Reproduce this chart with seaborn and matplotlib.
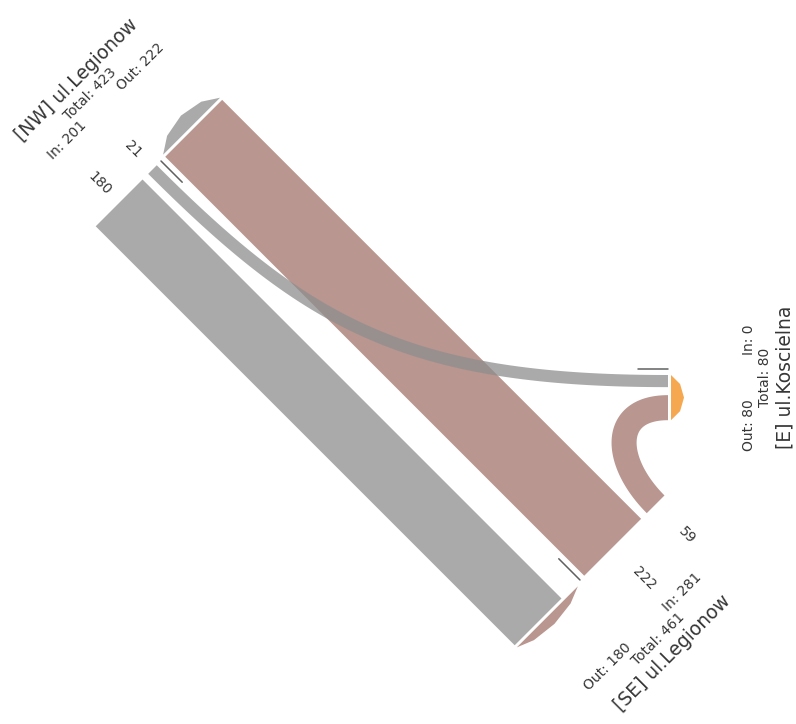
import matplotlib
matplotlib.use('Agg')
import numpy as np
import seaborn as sns
import matplotlib.pyplot as plt
from matplotlib.patches import Polygon

sns.set_theme(style="white")

# arms of the junction
arms = ["NW", "SE", "E"]
arm_names = {"NW": "[NW] ul.Legionow", "SE": "[SE] ul.Legionow", "E": "[E] ul.Koscielna"}
arm_colors = {"NW": "#8e8e8e", "SE": "#a2736a", "E": "#f38b16"}

# flows: origin -> destination, vehicles
flow_src = ["NW", "NW", "SE", "SE"]
flow_dst = ["SE", "E", "NW", "E"]
flow_val = [180, 21, 222, 59]

# lane order from the median outwards
in_order = {"NW": [1, 0], "SE": [2, 3], "E": []}
out_turn_order = {"E": [1, 3]}
bend = [None, (220, 260), None, (60, 58)]

SQ = np.sqrt(2)
def ds(a, s):
    return np.array([(a + s) / SQ, (a - s) / SQ])

# face point (median), inward dir, lateral dir towards in-lanes
face = {"NW": ds(227.7, 0), "SE": ds(820.2, 0), "E": np.array([668.0, 369.0])}
inward = {"NW": np.array([1, 1]) / SQ, "SE": np.array([-1, -1]) / SQ, "E": np.array([-1.0, 0])}
lat = {"NW": np.array([-1, 1]) / SQ, "SE": np.array([1, -1]) / SQ, "E": np.array([0, -1.0])}
text_rot = {"NW": 45, "SE": 45, "E": 90}
lane_lab_dist = {"NW": 28, "SE": 44}
lab_center = {"NW": 3, "SE": 14, "E": -8}
lab_gap = {"NW": 25, "SE": 25, "E": 22}
arrow_h = {"NW": 15, "SE": 10, "E": 13}

G0, G = 6, 8
W = [0.34 * v + 5 for v in flow_val]

lane_in = {}
for arm, ids in in_order.items():
    off = G0
    for i in ids:
        lane_in[i] = (off, off + W[i])
        off += W[i] + G
lane_out = {}
for arm, ids in out_turn_order.items():
    off = G0
    for i in ids:
        lane_out[i] = (off, off + W[i])
        off += W[i] + G
for i in range(len(flow_val)):
    if i not in lane_out:
        lane_out[i] = lane_in[i]


def ribbon(p0, p1, p2, p3, w, n=160):
    t = np.linspace(0, 1, n)[:, None]
    pts = (1 - t) ** 3 * p0 + 3 * (1 - t) ** 2 * t * p1 + 3 * (1 - t) * t ** 2 * p2 + t ** 3 * p3
    der = 3 * (1 - t) ** 2 * (p1 - p0) + 6 * (1 - t) * t * (p2 - p1) + 3 * t ** 2 * (p3 - p2)
    der = der / np.linalg.norm(der, axis=1)[:, None]
    nrm = np.column_stack([-der[:, 1], der[:, 0]])
    return np.vstack([pts + nrm * w / 2, (pts - nrm * w / 2)[::-1]])


fig = plt.figure(figsize=(7.96, 7.24), dpi=100)
ax = fig.add_axes([0, 0, 1, 1])
ax.set_xlim(0, 796)
ax.set_ylim(724, 0)
ax.axis("off")

# draw through flows first, turning flows on top
order = sorted(range(len(flow_val)), key=lambda i: bend[i] is not None)
for i in order:
    s, d = flow_src[i], flow_dst[i]
    p0 = face[s] + lat[s] * np.mean(lane_in[i])
    p3 = face[d] - lat[d] * np.mean(lane_out[i])
    if bend[i] is None:
        p1 = p0 + (p3 - p0) / 3
        p2 = p0 + 2 * (p3 - p0) / 3
    else:
        p1 = p0 + inward[s] * bend[i][0]
        p2 = p3 + inward[d] * bend[i][1]
    poly = ribbon(p0, p1, p2, p3, W[i])
    ax.add_patch(Polygon(poly, closed=True, fc=arm_colors[s], ec="none", alpha=0.75, zorder=2 + (bend[i] is not None)))

txt = dict(color="#363636", rotation_mode="anchor", va="center")
for arm in arms:
    F, n, e = face[arm], inward[arm], lat[arm]
    ins = [i for i in range(len(flow_val)) if flow_src[i] == arm]
    outs = [i for i in range(len(flow_val)) if flow_dst[i] == arm]
    v_in = sum(flow_val[i] for i in ins)
    v_out = sum(flow_val[i] for i in outs)

    # outgoing arrow
    if outs:
        hi = max(lane_out[i][1] for i in outs)
        pa = F - e * G0 - n * 3
        pb = F - e * hi - n * 3
        h = arrow_h[arm]
        pts = [pa]
        for f, k in [(0.2, 0.7), (0.5, 1.0), (0.8, 0.7)]:
            pts.append(pa + (pb - pa) * f - n * h * k)
        pts.append(pb)
        ax.add_patch(Polygon(np.array(pts), closed=True, fc=arm_colors[arm], ec="none", alpha=0.75, zorder=2))

    # median marker
    m = np.array([F, F + n * 30])
    ax.plot(m[:, 0], m[:, 1], color="#606060", lw=1.1, zorder=4)

    rot = text_rot[arm]
    # lane values
    for i in ins:
        p = F + e * np.mean(lane_in[i]) - n * lane_lab_dist[arm]
        ax.text(p[0], p[1], str(flow_val[i]), rotation=-45, ha="center", fontsize=10, **txt)

    c = lab_center[arm]
    g = lab_gap[arm]
    tdir = np.array([np.cos(np.radians(rot)), -np.sin(np.radians(rot))])
    in_left = np.dot(tdir, e) > 0
    p = F + e * (c + g) - n * 81
    ax.text(p[0], p[1], f"In: {v_in}", rotation=rot, ha="left" if in_left else "right", fontsize=10, **txt)
    p = F + e * (c - g) - n * 81
    ax.text(p[0], p[1], f"Out: {v_out}", rotation=rot, ha="right" if in_left else "left", fontsize=10, **txt)
    p = F + e * c - n * 97
    ax.text(p[0], p[1], f"Total: {v_in + v_out}", rotation=rot, ha="center", fontsize=10, **txt)
    p = F + e * c - n * 117
    ax.text(p[0], p[1], arm_names[arm], rotation=rot, ha="center", fontsize=13.5, **txt)

plt.savefig("out.png", dpi=100)
